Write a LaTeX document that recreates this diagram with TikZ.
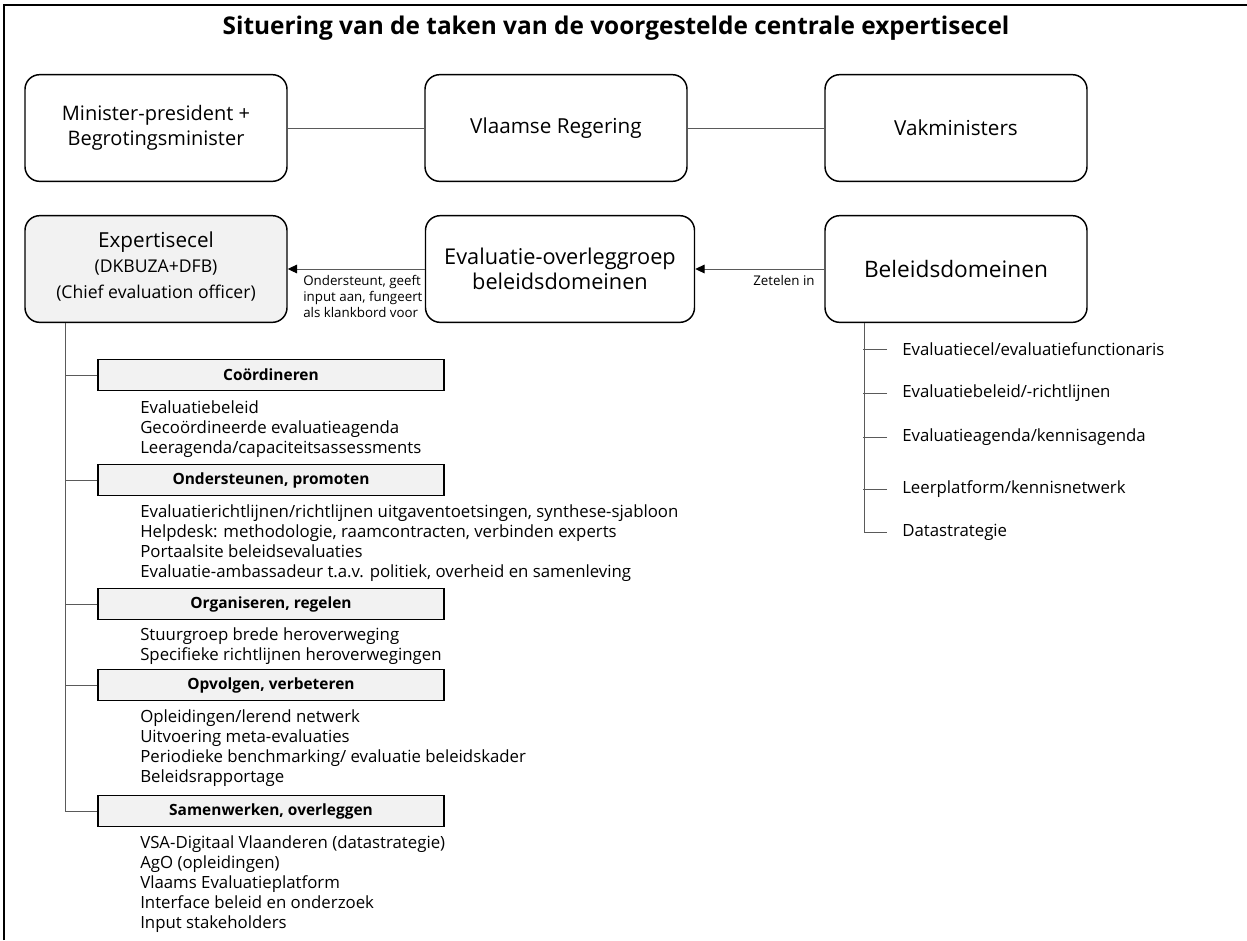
\documentclass[tikz,border=0pt]{standalone}
\usepackage{fontspec}
\setmainfont{Open Sans}
\usetikzlibrary{positioning, arrows.meta}

\definecolor{boxgray}{HTML}{F2F2F2}
\definecolor{linegray}{HTML}{5A5A5A}

\begin{document}
\begin{tikzpicture}[
            x=0.75pt, y=-0.75pt,
            govbox/.style={rectangle, draw, line width=1.1pt, rounded corners=11pt, minimum width=196.5pt, minimum height=80pt, align=center, font=\fontsize{15}{19}\selectfont},
            taskbox/.style={rectangle, draw, line width=1pt, fill=boxgray, minimum width=259.5pt, minimum height=23.5pt, inner sep=0pt, font=\bfseries\fontsize{11.6}{14}\selectfont},
            itemlist/.style={anchor=north west, align=left, inner sep=0pt, font=\fontsize{12.6}{15}\selectfont},
            note/.style={anchor=north west, align=left, inner sep=0pt, font=\fontsize{10}{12}\selectfont},
            link/.style={draw=linegray, line width=0.7pt},
            arrow/.style={link, -{Triangle[length=7pt, width=6.5pt, color=black]}}
        ]
        \useasboundingbox (0,0) rectangle (1247,940);
        % frame and title
        \draw[line width=1.5pt] (4,940) -- (4,5) -- (1247,5);
        \node[font=\bfseries\fontsize{18.3}{22}\selectfont] (title) at (616,28) {Situering van de taken van de voorgestelde centrale expertisecel};

        % government level
        \node[govbox] (minpres) at (156,128) {Minister-president +\\Begrotingsminister};
        \node[govbox, font=\fontsize{15.5}{19}\selectfont] (regering) at (556,128) {Vlaamse Regering};
        \node[govbox, font=\fontsize{15.5}{19}\selectfont] (vakmin) at (956,128) {Vakministers};

        % administration level
        \node[govbox, fill=boxgray, text depth=6pt] (expcel) at (156,269) {{\fontsize{15.5}{20}\selectfont Expertisecel}\\{\fontsize{13.2}{18}\selectfont(DKBUZA+DFB)}\\{\fontsize{13.2}{17}\selectfont(Chief evaluation officer)}};
        \node[govbox, minimum width=201.75pt, font=\fontsize{16.3}{19}\selectfont] (overleg) at (560,269) {Evaluatie-overleggroep\\beleidsdomeinen};
        \node[govbox, font=\fontsize{17}{20}\selectfont] (domeinen) at (956,269) {Beleidsdomeinen};

        \draw[link] (minpres) -- (regering);
        \draw[link] (regering) -- (vakmin);
        \draw[arrow] (overleg) -- (expcel.east |- overleg.west);
        \draw[arrow] (domeinen) -- (overleg);
        \node[note] (steunlbl) at (303,275) {Ondersteunt, geeft\\input aan, fungeert\\als klankbord voor};
        \node[note] (zetellbl) at (753,275) {Zetelen in};

        % tasks of the expertisecel
        \node[taskbox] (coord) at (271,375) {Coördineren};
        \node[itemlist] (coorditems) at (140,400) {Evaluatiebeleid\\Gecoördineerde evaluatieagenda\\Leeragenda/capaciteitsassessments};
        \node[taskbox] (steun) at (271,480) {Ondersteunen, promoten};
        \node[itemlist] (steunitems) at (140,504) {Evaluatierichtlijnen/richtlijnen uitgaventoetsingen, synthese-sjabloon\\Helpdesk: methodologie, raamcontracten, verbinden experts\\Portaalsite beleidsevaluaties\\Evaluatie-ambassadeur t.a.v. politiek, overheid en samenleving};
        \node[taskbox] (organ) at (271,604) {Organiseren, regelen};
        \node[itemlist] (organitems) at (140,627) {Stuurgroep brede heroverweging\\Specifieke richtlijnen heroverwegingen};
        \node[taskbox] (opvolg) at (271,685) {Opvolgen, verbeteren};
        \node[itemlist] (opvolgitems) at (140,709) {Opleidingen/lerend netwerk\\Uitvoering meta-evaluaties\\Periodieke benchmarking/ evaluatie beleidskader\\Beleidsrapportage};
        \node[taskbox] (samen) at (271,811) {Samenwerken, overleggen};
        \node[itemlist] (samenitems) at (140,835) {VSA-Digitaal Vlaanderen (datastrategie)\\AgO (opleidingen)\\Vlaams Evaluatieplatform\\Interface beleid en onderzoek\\Input stakeholders};

        \draw[link] (expcel.south west) ++(41,0) |- (samen.west);
        \foreach \t in {coord, steun, organ, opvolg}
            \draw[link] (\t.west) -- ++(-32,0);

        % what the beleidsdomeinen have
        \node[itemlist, anchor=west] (dom1) at (902,349) {Evaluatiecel/evaluatiefunctionaris};
        \node[itemlist, anchor=west] (dom2) at (902,393) {Evaluatiebeleid/-richtlijnen};
        \node[itemlist, anchor=west] (dom3) at (902,437) {Evaluatieagenda/kennisagenda};
        \node[itemlist, anchor=west] (dom4) at (902,489) {Leerplatform/kennisnetwerk};
        \node[itemlist, anchor=west] (dom5) at (902,532) {Datastrategie};
        \draw[link] (domeinen.south west) ++(40,0) |- ([xshift=-11.25pt]dom5.west);
        \foreach \d in {dom1, dom2, dom3, dom4}
            \draw[link] ([xshift=-11.25pt]\d.west) -- ++(-24,0);
\end{tikzpicture}
\end{document}
